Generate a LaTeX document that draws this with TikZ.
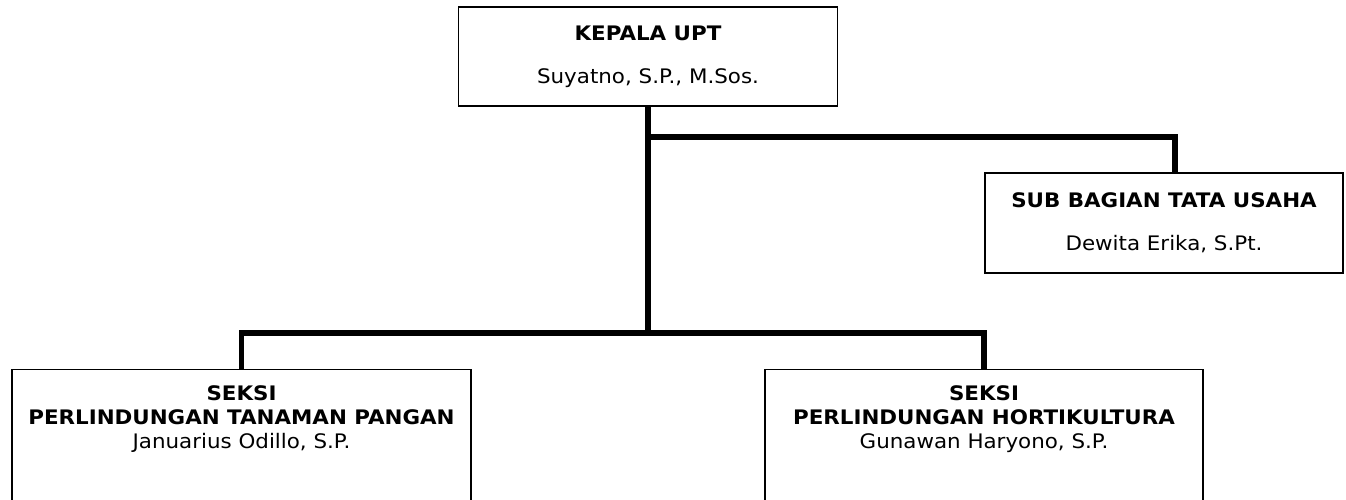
\documentclass[tikz,border=0pt]{standalone}
\usepackage{fontspec}
\setmainfont{DejaVu Sans}[FakeStretch=1.07]
\begin{document}
\begin{tikzpicture}[x=1pt, y=-1pt,
    unit/.style={draw, line width=1.3pt, align=center, inner sep=0pt,
        font=\fontsize{20}{24}\selectfont},
    link/.style={line width=5.8pt}]
    \useasboundingbox (0,0) rectangle (1346,500);

    % Boxes
    \node[unit, minimum width=379pt, minimum height=99pt] (kepala) at (648,56.5)
        {\textbf{KEPALA UPT}\\[19pt]Suyatno, S.P., M.Sos.};
    \node[unit, minimum width=358pt, minimum height=100pt] (tu) at (1164,223)
        {\textbf{SUB BAGIAN TATA USAHA}\\[19pt]Dewita Erika, S.Pt.};
    \node[unit, anchor=north, minimum width=459pt, inner ysep=16pt, text depth=90pt] (tanaman) at (241.5,369)
        {\textbf{SEKSI}\\\textbf{PERLINDUNGAN TANAMAN PANGAN}\\Januarius Odillo, S.P.};
    \node[unit, anchor=north, minimum width=438pt, inner ysep=16pt, text depth=90pt] (horti) at (984,369)
        {\textbf{SEKSI}\\\textbf{PERLINDUNGAN HORTIKULTURA}\\Gunawan Haryono, S.P.};

    % Lines
    \draw[link] (kepala.south) -- ++(0,226) coordinate (hub);
    \draw[link] (kepala.south) ++(0,30) -| ([xshift=11pt]tu.north);
    \draw[link] (tanaman.north) |- (hub) -| (horti.north);
\end{tikzpicture}
\end{document}
